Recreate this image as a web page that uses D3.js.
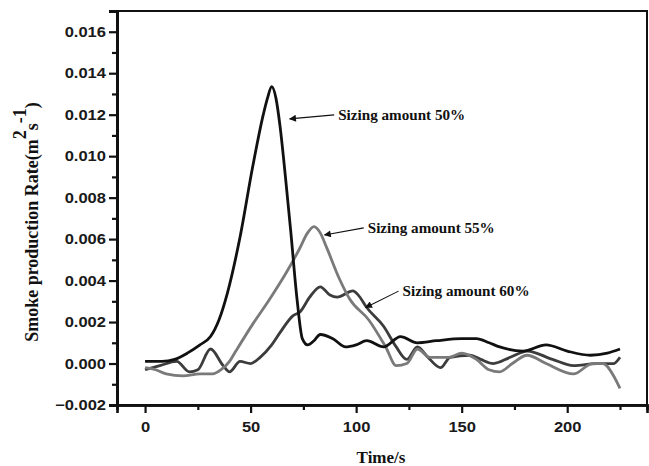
<!DOCTYPE html>
<html>
<head>
<meta charset="utf-8">
<script src="https://cdn.jsdelivr.net/npm/d3@7"></script>
<style>
  html, body { margin: 0; padding: 0; background: #fff; }
  svg { display: block; }
</style>
</head>
<body>
<svg id="chart" width="649" height="466"></svg>
<script>
// ---- data ----
const time50 = [0, 8, 14, 20, 26, 31, 35, 39, 45, 51, 56, 58, 60, 62, 64, 66.5, 69, 72, 74.5, 77, 80, 83, 89, 95, 100, 105, 113, 121, 129, 138, 150, 157, 163, 168, 179, 190, 200, 211, 219, 225];
const smoke50 = [0.0001, 0.0001, 0.0002, 0.0005, 0.0009, 0.0013, 0.0021, 0.0034, 0.0061, 0.0095, 0.0120, 0.0128, 0.01335, 0.0128, 0.0114, 0.0090, 0.0064, 0.0031, 0.0012, 0.0009, 0.0011, 0.0014, 0.0012, 0.0008, 0.0009, 0.0011, 0.0008, 0.0013, 0.0010, 0.0011, 0.0012, 0.0012, 0.0010, 0.0008, 0.0006, 0.0009, 0.0006, 0.0004, 0.0005, 0.0007];

const time55 = [0, 5, 10, 18, 26, 32, 36, 40, 43, 51, 59, 67, 73, 77, 80, 83, 86, 92, 97, 106, 114, 119, 124, 129, 135, 144, 150, 157, 163, 168, 174, 181, 190, 203, 212, 217, 222, 225];
const smoke55 = [-0.0002, -0.0003, -0.0005, -0.0006, -0.0005, -0.0005, -0.0003, 0.0001, 0.0006, 0.0019, 0.0031, 0.0044, 0.0055, 0.0063, 0.0066, 0.0063, 0.0056, 0.0041, 0.0031, 0.0021, 0.0008, -0.0001, 0.0000, 0.0007, 0.0003, 0.0003, 0.0005, 0.0002, -0.0003, -0.0004, 0.0000, 0.0004, 0.0000, -0.0005, 0.0000, 0.0000, -0.0006, -0.0012];

const time60 = [0, 7, 15, 21, 25, 31, 37, 40, 45, 50, 54.5, 60, 64, 70, 73.5, 78, 83, 87.6, 91, 98.5, 101, 105, 113, 119, 124, 129, 134, 140, 144.5, 154, 159, 165, 173, 181, 193, 203, 214, 222, 225];
const smoke60 = [-0.0003, -0.0001, 0.0001, -0.0004, -0.0003, 0.0007, -0.0001, -0.0004, 0.0001, 0.0000, 0.0003, 0.0009, 0.0015, 0.0023, 0.0025, 0.0032, 0.0037, 0.0033, 0.0032, 0.0035, 0.0033, 0.0027, 0.0018, 0.0008, 0.0002, 0.0008, 0.0003, -0.0002, 0.0003, 0.0004, 0.0002, 0.0000, 0.0003, 0.0006, 0.0002, -0.0001, 0.0000, 0.0000, 0.0003];

const xMajorTicks = [0, 50, 100, 150, 200];
const xMinorTicks = [25, 75, 125, 175, 225];
const yMajorTicks = [-0.002, 0.000, 0.002, 0.004, 0.006, 0.008, 0.010, 0.012, 0.014, 0.016];
const yMinorTicks = [-0.001, 0.001, 0.003, 0.005, 0.007, 0.009, 0.011, 0.013, 0.015];

const seriesNames = ["Sizing amount 50%", "Sizing amount 55%", "Sizing amount 60%"];
const seriesColors = ["#111111", "#7a7a7a", "#3c3c3c"];
// label anchor points (data space): where the arrow points, and where the text sits
const arrowTipX = [68.5, 85, 104.5];
const arrowTipY = [0.0118, 0.0062, 0.0027];
const labelX = [91.5, 105.5, 122];
const labelY = [0.01175, 0.0063, 0.00325];

// ---- layout ----
const svg = d3.select("#chart");
const x = d3.scaleLinear().domain([-13.3, 237.8]).range([117, 647]);
const y = d3.scaleLinear().domain([-0.002, 0.017]).range([405, 11]);

const sansFont = "'Liberation Sans', Arial, sans-serif";
const serifFont = "'Liberation Serif', 'Times New Roman', serif";

// frame
svg.append("rect")
  .attr("x", x.range()[0]).attr("y", y.range()[1])
  .attr("width", x.range()[1] - x.range()[0])
  .attr("height", y.range()[0] - y.range()[1])
  .attr("fill", "none").attr("stroke", "#111").attr("stroke-width", 2);

// x axis
const gx = svg.append("g").attr("transform", `translate(0,${y.range()[0]})`);
gx.call(d3.axisBottom(x).tickValues(xMajorTicks).tickSize(8).tickPadding(9).tickFormat(d3.format("d")));
gx.append("g").call(d3.axisBottom(x).tickValues(xMinorTicks).tickSize(5).tickFormat(""));
gx.selectAll(".domain").attr("stroke-width", 2.6).attr("stroke", "#111");
gx.selectAll(".tick line").attr("stroke-width", 2.2).attr("stroke", "#111");
gx.selectAll(".tick text").attr("font-family", sansFont).attr("font-weight", "bold")
  .attr("font-size", 14).attr("fill", "#1a1a1a");

// y axis
const gy = svg.append("g").attr("transform", `translate(${x.range()[0]},0)`);
gy.call(d3.axisLeft(y).tickValues(yMajorTicks).tickSize(8).tickPadding(3).tickFormat(d3.format(".3f")));
gy.append("g").call(d3.axisLeft(y).tickValues(yMinorTicks).tickSize(5).tickFormat(""));
gy.selectAll(".domain").attr("stroke-width", 3).attr("stroke", "#111");
gy.selectAll(".tick line").attr("stroke-width", 2.2).attr("stroke", "#111");
gy.selectAll(".tick text").attr("font-family", sansFont).attr("font-weight", "bold")
  .attr("font-size", 14).attr("fill", "#1a1a1a");

// widen tick labels like the reference
svg.selectAll(".tick text").each(function() {
  const len = this.getComputedTextLength();
  if (len > 0) d3.select(this).attr("textLength", len * 1.18).attr("lengthAdjust", "spacingAndGlyphs");
});

// lines
const series = [
  { t: time50, v: smoke50 },
  { t: time55, v: smoke55 },
  { t: time60, v: smoke60 }
];
const line = d3.line().x(d => x(d[0])).y(d => y(d[1])).curve(d3.curveMonotoneX);
[2, 1, 0].forEach(i => {
  const pts = series[i].t.map((t, k) => [t, series[i].v[k]]);
  svg.append("path").datum(pts)
    .attr("d", line)
    .attr("fill", "none")
    .attr("stroke", seriesColors[i])
    .attr("stroke-width", 2.8)
    .attr("stroke-linejoin", "round");
});

// arrow marker
svg.append("defs").append("marker")
  .attr("id", "arr").attr("viewBox", "0 0 10 10")
  .attr("refX", 9).attr("refY", 5)
  .attr("markerWidth", 9).attr("markerHeight", 7)
  .attr("markerUnits", "userSpaceOnUse")
  .attr("orient", "auto")
  .append("path").attr("d", "M0,0 L10,5 L0,10 Z").attr("fill", "#111");

// annotations
seriesNames.forEach((name, i) => {
  svg.append("line")
    .attr("x1", x(labelX[i]) - 4).attr("y1", y(labelY[i]) - 5)
    .attr("x2", x(arrowTipX[i])).attr("y2", y(arrowTipY[i]))
    .attr("stroke", "#111").attr("stroke-width", 1.1)
    .attr("marker-end", "url(#arr)");
  svg.append("text")
    .attr("x", x(labelX[i])).attr("y", y(labelY[i]))
    .attr("font-family", serifFont).attr("font-weight", "bold")
    .attr("font-size", 14).attr("fill", "#111")
    .attr("textLength", 127).attr("lengthAdjust", "spacingAndGlyphs")
    .text(name);
});

// axis titles
svg.append("text")
  .attr("x", 381).attr("y", 463)
  .attr("text-anchor", "middle")
  .attr("font-family", serifFont).attr("font-weight", "bold")
  .attr("font-size", 17).attr("fill", "#111")
  .text("Time/s");

const yt = svg.append("text")
  .attr("transform", "translate(38,222) rotate(-90)")
  .attr("text-anchor", "middle")
  .attr("font-family", serifFont).attr("font-weight", "bold")
  .attr("font-size", 18).attr("fill", "#111");
yt.append("tspan").text("Smoke production Rate(m");
yt.append("tspan").attr("dy", -12).text("2");
yt.append("tspan").attr("dy", 12).text("s");
yt.append("tspan").attr("dy", -12).text("-1");
yt.append("tspan").attr("dy", 12).text(")");
</script>
</body>
</html>
